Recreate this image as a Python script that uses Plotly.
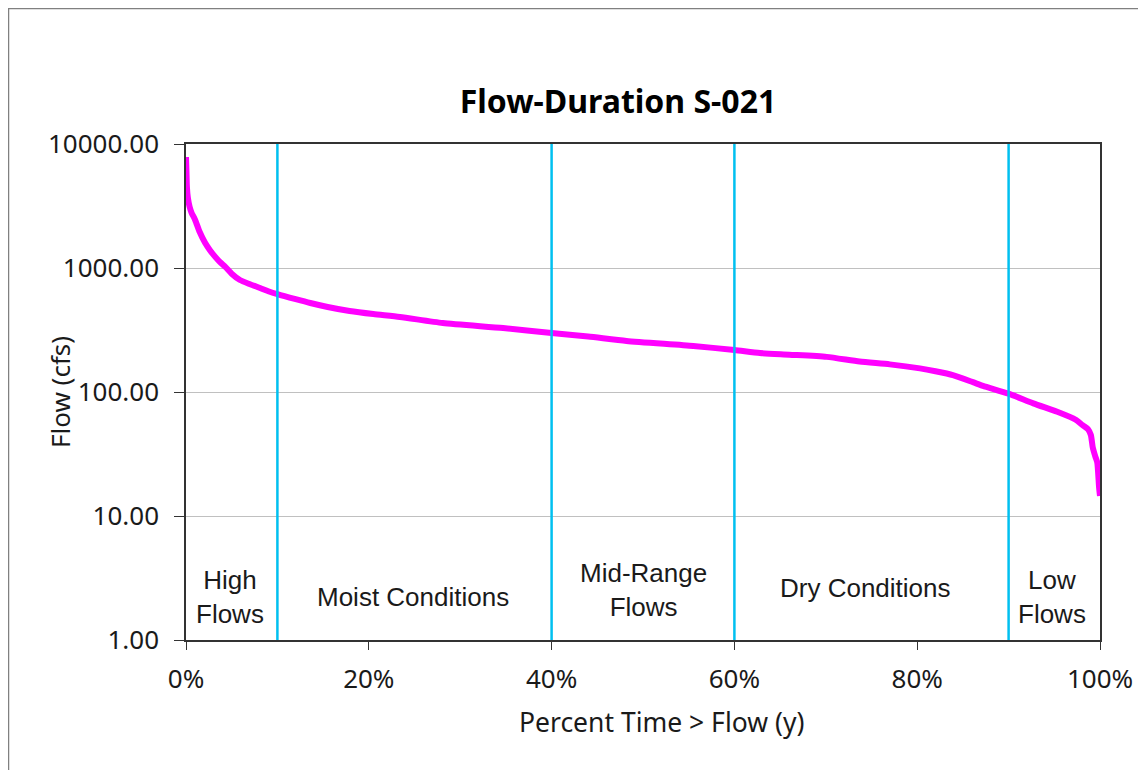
import plotly.graph_objects as go

# Flow-duration curve (percent of time flow is exceeded, flow in cfs)
pct_exceed = [0, 0.05, 0.1, 0.2, 0.4, 0.6, 1.0, 1.5, 2.1, 2.6, 3.2, 3.7, 4.3, 5.0, 5.9, 7.0,
              8.1, 9.0, 10, 12, 13.6, 15.5, 17.9, 20.5, 23.4, 28.1, 34.7, 40, 44, 48.2, 55.5,
              60, 62.8, 66, 70.1, 73.7, 77, 80.3, 82, 83.9, 86.1, 87.2, 90, 92.7, 95.6, 97.3,
              98.1, 98.7, 99.0, 99.2, 99.5, 99.7, 99.9, 100]
flow_cfs = [7850, 6000, 4500, 3700, 3100, 2800, 2440, 1950, 1590, 1400, 1230, 1120, 1020, 900,
            800, 740, 690, 650, 615, 560, 522, 485, 450, 425, 403, 360, 328, 299, 280, 258, 235,
            218, 206, 200, 192, 176, 167, 155, 147, 137, 120, 112, 97, 81, 68, 60,
            54, 50, 45, 36, 30, 27, 17, 14.5]

zone_bounds = [10, 40, 60, 90]
zone_labels = ["High<br>Flows", "Moist Conditions", "Mid-Range<br>Flows", "Dry Conditions", "Low<br>Flows"]
zone_label_x = [4.8, 24.8, 50.0, 74.3, 94.7]
zone_label_y = [0.087, 0.087, 0.101, 0.105, 0.087]

y_ticks = [1, 10, 100, 1000, 10000]
x_ticks = [0, 20, 40, 60, 80, 100]
x_tick_text = ["0%", "20%", "40%", "60%", "80%", "100%"]

FONT = "Noto Sans"
TXT = "#1a1a1a"

# figure pixel geometry (page is offset by 8px body margin)
L, T, W, H = 178, 136, 914, 496

fig = go.Figure()
fig.add_trace(go.Scatter(x=pct_exceed, y=flow_cfs, mode="lines",
                         line=dict(color="#FF00FF", width=6, shape="spline", smoothing=0.6),
                         showlegend=False, hoverinfo="skip"))

shapes = []
for b in zone_bounds:
    shapes.append(dict(type="line", xref="x", yref="paper", x0=b, x1=b, y0=0, y1=1,
                       line=dict(color="#00C0F0", width=2.5), layer="above"))
# outer chart frame
shapes.append(dict(type="rect", xref="paper", yref="paper",
                   x0=(0.5 - L) / W, x1=(1160 - L) / W,
                   y0=(T + H - 780) / H, y1=(T + H - 0.5) / H,
                   line=dict(color="#808080", width=1.5), fillcolor="rgba(0,0,0,0)"))

annotations = []
for lab, xx, yy in zip(zone_labels, zone_label_x, zone_label_y):
    annotations.append(dict(text=lab, x=xx, y=yy, xref="x", yref="paper",
                            showarrow=False, xanchor="center", yanchor="middle",
                            font=dict(family="Liberation Sans, Arial", size=26, color=TXT)))
annotations.append(dict(text="Flow (cfs)", x=(52 - L) / W, y=0.5, xref="paper", yref="paper",
                        showarrow=False, textangle=-90, xanchor="center", yanchor="middle",
                        font=dict(family=FONT, size=26, color=TXT)))
annotations.append(dict(text="Percent Time > Flow (y)", x=(653 - L) / W, y=(T + H - 714) / H,
                        xref="paper", yref="paper", showarrow=False,
                        xanchor="center", yanchor="middle",
                        font=dict(family=FONT, size=26.5, color=TXT)))

fig.update_layout(
    width=1146, height=770,
    margin=dict(l=L, r=1146 - L - W, t=T, b=770 - T - H),
    paper_bgcolor="white", plot_bgcolor="white",
    title=dict(text="<b>Flow-Duration S-021</b>", xref="container", yref="container",
               x=610 / 1146, y=1 - 94 / 770, xanchor="center", yanchor="middle",
               font=dict(family=FONT, size=32, color="black")),
    shapes=shapes, annotations=annotations,
    xaxis=dict(range=[0, 100], tickvals=x_ticks, ticktext=x_tick_text, showgrid=False,
               showline=True, linecolor="#333333", linewidth=1.5, mirror=True,
               ticks="outside", ticklen=8, tickcolor="#333333", ticklabelstandoff=7,
               tickfont=dict(family=FONT, size=26, color=TXT), zeroline=False),
    yaxis=dict(type="log", range=[0, 4], tickvals=y_ticks, tickformat=".2f",
               showgrid=True, gridcolor="#c0c0c0", gridwidth=1,
               showline=True, linecolor="#333333", linewidth=1.5, mirror=True,
               ticks="outside", ticklen=10, tickcolor="#333333", ticklabelstandoff=10,
               tickfont=dict(family=FONT, size=26, color=TXT), zeroline=False),
)

fig.write_html("out.html")
